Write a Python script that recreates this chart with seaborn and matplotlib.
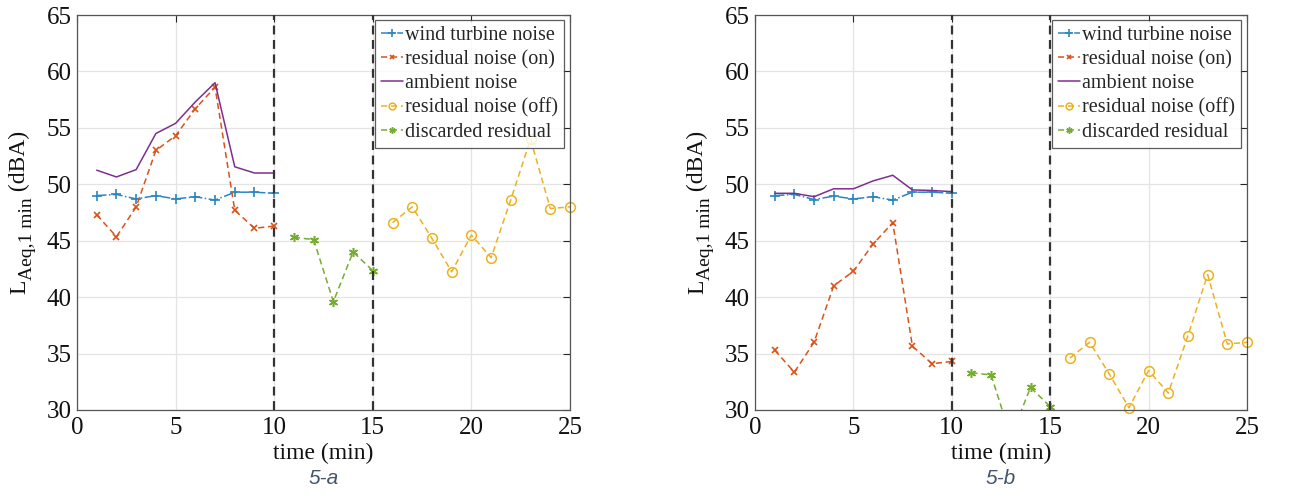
import numpy as np
import pandas as pd
import seaborn as sns
import matplotlib
matplotlib.use("Agg")
import matplotlib.pyplot as plt

# Minute-by-minute LAeq,1min levels (dBA)
t_on = [1, 2, 3, 4, 5, 6, 7, 8, 9, 10]
t_disc = [11, 12, 13, 14, 15]
t_off = [16, 17, 18, 19, 20, 21, 22, 23, 24, 25]

# Panel 5-a
wt_a = [49.0, 49.1, 48.7, 49.0, 48.7, 48.9, 48.6, 49.3, 49.3, 49.2]
res_on_a = [47.3, 45.35, 48.0, 53.0, 54.3, 56.7, 58.6, 47.7, 46.1, 46.3]
amb_a = [51.25, 50.65, 51.3, 54.5, 55.4, 57.3, 59.0, 51.55, 51.0, 51.0]
res_off_a = [46.6, 48.0, 45.2, 42.25, 45.5, 43.5, 48.65, 54.0, 47.85, 48.0]
disc_a = [45.3, 45.1, 39.6, 44.0, 42.35]

# Panel 5-b
wt_b = [49.0, 49.1, 48.65, 48.95, 48.7, 48.9, 48.6, 49.3, 49.3, 49.2]
res_on_b = [35.3, 33.35, 36.0, 41.0, 42.3, 44.7, 46.6, 35.65, 34.1, 34.3]
amb_b = [49.2, 49.2, 48.9, 49.6, 49.6, 50.3, 50.8, 49.5, 49.45, 49.35]
res_off_b = [34.6, 36.0, 33.2, 30.2, 33.5, 31.5, 36.6, 42.0, 35.85, 36.0]
disc_b = [33.3, 33.1, 27.6, 32.0, 30.3]

labels = ["wind turbine noise", "residual noise (on)", "ambient noise",
          "residual noise (off)", "discarded residual"]
captions = ["5-a", "5-b"]
boundaries = [10, 15]

colors = {
    "wind turbine noise": "#2a86c0",
    "residual noise (on)": "#d95319",
    "ambient noise": "#7e2f8e",
    "residual noise (off)": "#edb120",
    "discarded residual": "#77ac30",
}
dash = (0, (4, 2.5))
styles = {
    "wind turbine noise": dict(linestyle="-.", marker="+", markersize=7.5, mew=1.2),
    "residual noise (on)": dict(linestyle=dash, marker="x", markersize=5, mew=1.2),
    "ambient noise": dict(linestyle="-", marker=None),
    "residual noise (off)": dict(linestyle=dash, marker="o", markersize=7,
                                 mfc="none", mew=1.1, clip_on=False),
    "discarded residual": dict(linestyle=dash, marker=(6, 2, 0), markersize=6.5, mew=1.1),
}


def panel_frame(wt, res_on, amb, res_off, disc):
    parts = [
        pd.DataFrame({"t": t_on, "L": wt, "series": labels[0]}),
        pd.DataFrame({"t": t_on, "L": res_on, "series": labels[1]}),
        pd.DataFrame({"t": t_on, "L": amb, "series": labels[2]}),
        pd.DataFrame({"t": t_off, "L": res_off, "series": labels[3]}),
        pd.DataFrame({"t": t_disc, "L": disc, "series": labels[4]}),
    ]
    return pd.concat(parts, ignore_index=True)


frames = [panel_frame(wt_a, res_on_a, amb_a, res_off_a, disc_a),
          panel_frame(wt_b, res_on_b, amb_b, res_off_b, disc_b)]

sns.set_theme(style="white")
plt.rcParams["font.family"] = ["Liberation Serif", "DejaVu Serif"]

W, H = 1309, 499
fig = plt.figure(figsize=(W / 100, H / 100), dpi=100)
axes_px = [(77, 15, 570, 410), (755, 15, 1247, 410)]
axes = []

for i, df in enumerate(frames):
    x0, y0, x1, y1 = axes_px[i]
    ax = fig.add_axes([x0 / W, 1 - y1 / H, (x1 - x0) / W, (y1 - y0) / H])
    axes.append(ax)

    handles = []
    for name in labels:
        sub = df[df["series"] == name]
        sns.lineplot(data=sub, x="t", y="L", ax=ax, color=colors[name],
                     mec=colors[name], linewidth=1.1, legend=False, sort=False,
                     **styles[name])
        handles.append(ax.lines[-1])

    for b in boundaries:
        ax.axvline(b, color="#333333", linewidth=1.6, linestyle=dash, zorder=3)

    ax.set_xlim(0, 25)
    ax.set_ylim(30, 65)
    ax.set_xticks(np.arange(0, 26, 5))
    ax.set_yticks(np.arange(30, 66, 5))
    ax.grid(True, color="#e4e4e4", linewidth=0.9)
    ax.set_axisbelow(True)
    ax.tick_params(direction="in", length=5, width=0.8, top=True, right=True,
                   labelsize=18, colors="#262626", labelcolor="#111111")
    ax.tick_params(axis="x", pad=5)
    ax.tick_params(axis="y", pad=4)
    for sp in ax.spines.values():
        sp.set_color("#555555")
        sp.set_linewidth(0.9)

    ax.set_xlabel("time (min)", fontsize=17, color="#111111", labelpad=3)
    ax.set_ylabel("")

    leg = ax.legend(handles, labels, loc="upper right", bbox_to_anchor=(0.988, 0.988),
                    fontsize=14.5, frameon=True, fancybox=False, handlelength=1.1,
                    handletextpad=0.1, borderpad=0.3, labelspacing=0.25,
                    borderaxespad=0.0, markerscale=0.7)
    leg.get_frame().set_edgecolor("#333333")
    leg.get_frame().set_linewidth(0.9)
    leg.set_zorder(10)

    cx = (x0 + x1) / 2 / W
    fig.text(cx, 1 - 478 / H, captions[i], ha="center", va="center", fontsize=15,
             style="italic", color="#44546a", family=["Liberation Sans", "DejaVu Sans"])

# Rotated y label assembled from main text and a large subscript
fig.canvas.draw()
renderer = fig.canvas.get_renderer()
label_parts = [("L", 17, 0), ("Aeq,1 min", 14, 7), (" (dBA)", 17, 0)]
for i, ax in enumerate(axes):
    x0, y0, x1, y1 = axes_px[i]
    base_x = x0 - 52          # baseline of the main text, in pixels from left
    pos_y = 294               # start of the label, pixels from top
    for text, size, drop in label_parts:
        t = fig.text((base_x + drop) / W, 1 - pos_y / H, text, rotation=90,
                     rotation_mode="anchor", ha="left", va="baseline",
                     fontsize=size, color="#111111")
        bb = t.get_window_extent(renderer)
        pos_y -= bb.height

fig.savefig("out.png", dpi=100, facecolor="white")
